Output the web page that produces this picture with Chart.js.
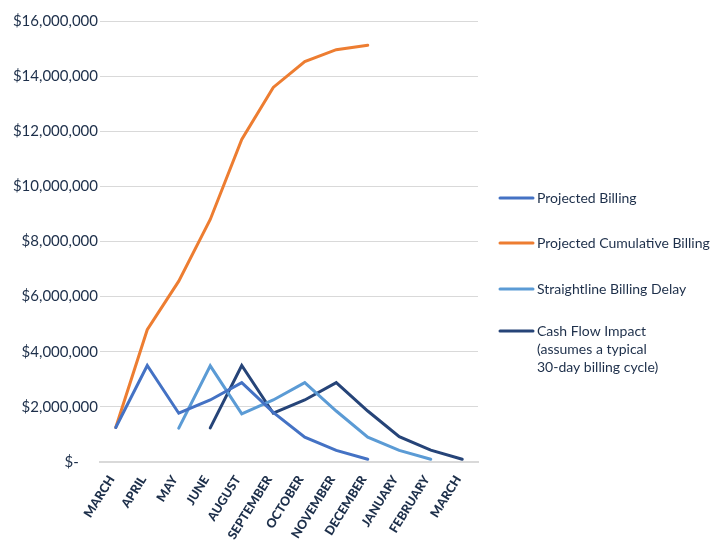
<!DOCTYPE html>
<html>
<head>
<meta charset="utf-8">
<script src="https://cdn.jsdelivr.net/npm/chart.js@4.4.1/dist/chart.umd.min.js"></script>
<style>
  html, body { margin: 0; padding: 0; background: #ffffff; }
  #wrap { width: 719px; height: 550px; position: relative; }
</style>
</head>
<body>
<div id="wrap"><canvas id="chart"></canvas></div>
<script>
// Billing schedule by month
const months = ['MARCH', 'APRIL', 'MAY', 'JUNE', 'AUGUST', 'SEPTEMBER', 'OCTOBER', 'NOVEMBER', 'DECEMBER', 'JANUARY', 'FEBRUARY', 'MARCH'];

const projectedBilling = [1250000, 3500000, 1770000, 2250000, 2880000, 1800000, 900000, 420000, 100000, null, null, null];
const projectedCumulative = [1250000, 4800000, 6560000, 8800000, 11700000, 13590000, 14530000, 14960000, 15120000, null, null, null];
const straightlineDelay = [null, null, 1230000, 3490000, 1750000, 2250000, 2880000, 1850000, 900000, 420000, 100000, null];
const cashFlowImpact = [null, null, null, 1240000, 3500000, 1770000, 2250000, 2880000, 1850000, 920000, 430000, 100000];

const seriesLabels = [
  'Projected Billing',
  'Projected Cumulative Billing',
  'Straightline Billing Delay',
  ['Cash Flow Impact', '(assumes a typical', '30-day billing cycle)']
];

const yTicks = { min: 0, max: 16000000, step: 2000000 };

const textColor = '#1d2f4a';
const fontFamily = 'Lato, "Open Sans", sans-serif';

// Legend drawn at the right side, supports multi-line entries
const sideLegend = {
  id: 'sideLegend',
  afterDraw(chart) {
    const ctx = chart.ctx;
    const x0 = 500, lineLen = 33, textX = 537;
    const rows = [198, 243, 289, 331];
    const lineH = 18;
    ctx.save();
    ctx.font = '14px ' + fontFamily;
    ctx.textBaseline = 'middle';
    ctx.textAlign = 'left';
    chart.data.datasets.forEach((ds, i) => {
      const y = rows[i];
      ctx.strokeStyle = ds.borderColor;
      ctx.lineWidth = 3;
      ctx.lineCap = 'round';
      ctx.beginPath();
      ctx.moveTo(x0, y);
      ctx.lineTo(x0 + lineLen, y);
      ctx.stroke();
      ctx.fillStyle = textColor;
      const lines = Array.isArray(ds.label) ? ds.label : [ds.label];
      lines.forEach((t, j) => ctx.fillText(t, textX, y + j * lineH));
    });
    ctx.restore();
  }
};

const makeSet = (label, data, color) => ({
  label, data,
  borderColor: color,
  backgroundColor: color,
  borderWidth: 3,
  pointRadius: 0,
  pointHoverRadius: 0,
  tension: 0,
  fill: false,
  borderCapStyle: 'round',
  borderJoinStyle: 'miter'
});

new Chart(document.getElementById('chart'), {
  type: 'line',
  data: {
    labels: months,
    datasets: [
      makeSet(seriesLabels[0], projectedBilling, '#4472C4'),
      makeSet(seriesLabels[1], projectedCumulative, '#ED7D31'),
      makeSet(seriesLabels[2], straightlineDelay, '#5B9BD5'),
      makeSet(seriesLabels[3], cashFlowImpact, '#264478')
    ]
  },
  options: {
    responsive: true,
    maintainAspectRatio: false,
    animation: false,
    layout: { padding: { top: 21, right: 241, left: 0, bottom: 0 } },
    plugins: {
      legend: { display: false },
      tooltip: { enabled: false }
    },
    scales: {
      x: {
        offset: true,
        grid: { display: false, drawTicks: false },
        border: { display: true, color: '#d9d9d9', width: 2 },
        ticks: {
          color: textColor,
          font: { family: fontFamily, size: 12.5, weight: '900' },
          minRotation: 58,
          maxRotation: 58,
          autoSkip: false,
          padding: 11,
          labelOffset: -4
        },
        afterFit(scale) { scale.height = 88; }
      },
      y: {
        min: yTicks.min,
        max: yTicks.max,
        grid: { color: '#d9d9d9', lineWidth: 1, drawTicks: false },
        border: { display: false },
        ticks: {
          stepSize: yTicks.step,
          color: textColor,
          font: { family: fontFamily, size: 15 },
          padding: 2,
          callback: (v) => v === 0 ? '$-\u00a0\u00a0\u00a0\u00a0\u00a0' : '$' + v.toLocaleString('en-US')
        },
        afterFit(scale) { scale.width = 100; }
      }
    }
  },
  plugins: [sideLegend]
});
</script>
</body>
</html>
